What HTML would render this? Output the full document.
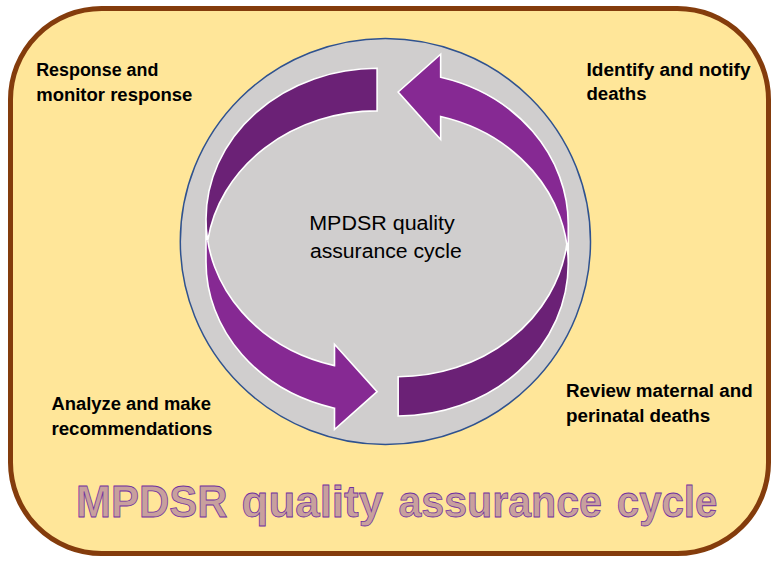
<!DOCTYPE html>
<html lang="en">
<head>
<meta charset="utf-8">
<title>MPDSR quality assurance cycle</title>
<style>
  html, body { margin: 0; padding: 0; background: #FFFFFF; }
  body { width: 780px; height: 579px; overflow: hidden; }
  svg { display: block; }
</style>
</head>
<body>
<svg width="780" height="579" viewBox="0 0 780 579">
  <rect x="10.5" y="8.5" width="758" height="545" rx="91" ry="91" fill="#FFE699" stroke="#843C0C" stroke-width="5"/>
  <ellipse cx="385.4" cy="241.5" rx="205.1" ry="203.0" fill="#D0CECE" stroke="#2F528F" stroke-width="1.5"/>
  <g transform="translate(206.0,68.3)">
      <path d="M0,151.04 A171.10,151.04 0 0 0 128.50,297.32 L128.50,275.99 L171.10,323.38 L128.50,361.24 L128.50,339.92 A171.10,151.04 0 0 1 0,193.64 Z" fill="#862993"/>
      <path d="M171.10,42.60 A171.10,151.04 0 0 0 1.71,172.34 A171.10,151.04 0 0 1 171.10,0 Z" fill="#6B2176"/>
      <path d="M0,151.04 A171.10,151.04 0 0 0 128.50,297.32 L128.50,275.99 L171.10,323.38 L128.50,361.24 L128.50,339.92 A171.10,151.04 0 0 1 0,193.64 L0,151.04 A171.10,151.04 0 0 1 171.10,0 L171.10,42.60 A171.10,151.04 0 0 0 1.71,172.34" fill="none" stroke="#FFFFFF" stroke-width="1.6" stroke-linejoin="miter"/>
    </g>
  <g transform="translate(568.25,416.0) scale(-1,-1)">
      <path d="M0,152.16 A170.10,152.16 0 0 0 127.60,299.50 L127.60,276.52 L170.10,323.98 L127.60,361.77 L127.60,338.80 A170.10,152.16 0 0 1 0,191.46 Z" fill="#862993"/>
      <path d="M170.10,39.30 A170.10,152.16 0 0 0 1.42,171.81 A170.10,152.16 0 0 1 170.10,0 Z" fill="#6B2176"/>
      <path d="M0,152.16 A170.10,152.16 0 0 0 127.60,299.50 L127.60,276.52 L170.10,323.98 L127.60,361.77 L127.60,338.80 A170.10,152.16 0 0 1 0,191.46 L0,152.16 A170.10,152.16 0 0 1 170.10,0 L170.10,39.30 A170.10,152.16 0 0 0 1.42,171.81" fill="none" stroke="#FFFFFF" stroke-width="1.6" stroke-linejoin="miter"/>
    </g>
  <text font-family='"Liberation Sans", sans-serif' font-weight="700" font-size="17.6" fill="#000">
      <tspan x="36.2" y="75.8" textLength="122.2" lengthAdjust="spacingAndGlyphs">Response and</tspan>
      <tspan x="36.2" y="100.6" textLength="156.2" lengthAdjust="spacingAndGlyphs">monitor response</tspan>
    </text>
  <text font-family='"Liberation Sans", sans-serif' font-weight="700" font-size="17.6" fill="#000">
      <tspan x="586.5" y="75.6" textLength="164.0" lengthAdjust="spacingAndGlyphs">Identify and notify</tspan>
      <tspan x="586.5" y="100.3" textLength="60.0" lengthAdjust="spacingAndGlyphs">deaths</tspan>
    </text>
  <text font-family='"Liberation Sans", sans-serif' font-weight="700" font-size="17.6" fill="#000">
      <tspan x="51.4" y="409.5" textLength="159.6" lengthAdjust="spacingAndGlyphs">Analyze and make</tspan>
      <tspan x="51.4" y="435.4" textLength="161.0" lengthAdjust="spacingAndGlyphs">recommendations</tspan>
    </text>
  <text font-family='"Liberation Sans", sans-serif' font-weight="700" font-size="17.6" fill="#000">
      <tspan x="566.0" y="396.7" textLength="186.6" lengthAdjust="spacingAndGlyphs">Review maternal and</tspan>
      <tspan x="566.0" y="422.2" textLength="144.2" lengthAdjust="spacingAndGlyphs">perinatal deaths</tspan>
    </text>
  <text font-family='"Liberation Sans", sans-serif' font-size="20" fill="#000">
    <tspan x="309.2" y="229.5" textLength="145.6" lengthAdjust="spacingAndGlyphs">MPDSR quality</tspan>
    <tspan x="309.9" y="257.6" textLength="151.8" lengthAdjust="spacingAndGlyphs">assurance cycle</tspan>
  </text>
  <text font-family='"Liberation Sans", sans-serif' font-weight="700" font-size="44.5" fill="#C8A09D" stroke="#7030A0" stroke-width="0.8" y="516.6">
    <tspan x="76.0" textLength="151.5" lengthAdjust="spacingAndGlyphs">MPDSR</tspan>
    <tspan x="241.6" textLength="141.5" lengthAdjust="spacingAndGlyphs">quality</tspan>
    <tspan x="398.4" textLength="203.6" lengthAdjust="spacingAndGlyphs">assurance</tspan>
    <tspan x="616.8" textLength="100.6" lengthAdjust="spacingAndGlyphs">cycle</tspan>
  </text>
</svg>
</body>
</html>
